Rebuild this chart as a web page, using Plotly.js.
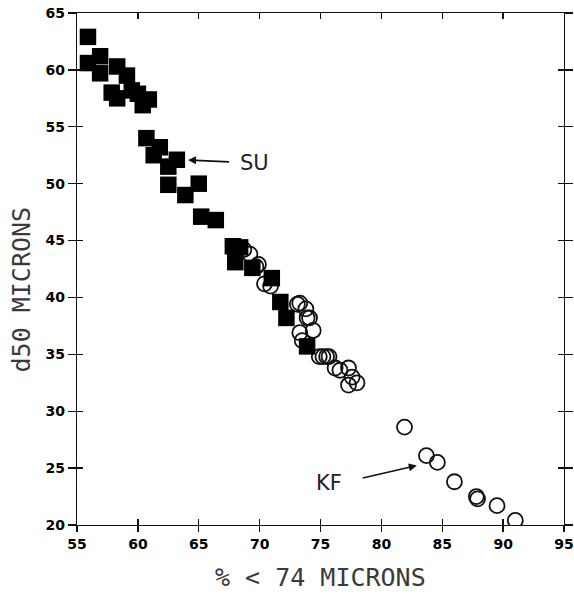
<!DOCTYPE html>
<html>
<head>
<meta charset="utf-8">
<script src="https://cdn.plot.ly/plotly-3.0.1.min.js"></script>
<style>html,body{margin:0;padding:0;background:#fff;}#chart{width:574px;height:604px;}</style>
</head>
<body>
<div id="chart"></div>
<script>
// SU data (filled squares)
const suX = [55.9, 55.9, 56.9, 56.9, 58.3, 59.1, 57.85, 58.3, 59.5, 60.0, 60.4, 60.9,
             60.7, 61.8, 61.3, 63.2, 62.5, 62.5, 65.0, 63.9, 65.2, 66.4,
             67.8, 68.0, 68.4, 69.4, 71.0, 71.7, 72.2, 73.9];
const suY = [62.9, 60.6, 61.2, 59.7, 60.3, 59.5, 58.0, 57.5, 58.2, 57.9, 56.9, 57.4,
             54.0, 53.2, 52.5, 52.1, 51.5, 49.9, 50.0, 49.0, 47.1, 46.8,
             44.5, 43.1, 44.4, 42.6, 41.7, 39.6, 38.2, 35.7];
// KF data (open circles)
const kfX = [68.7, 69.2, 69.9, 69.7, 70.4, 70.9, 73.1, 73.3, 73.8, 74.1, 73.9, 74.4, 73.3, 73.5,
             74.9, 75.2, 75.5, 75.7, 76.2, 76.6, 77.3, 77.6, 77.3, 78.0,
             81.9, 83.7, 84.6, 86.0, 87.8, 87.9, 89.5, 91.0];
const kfY = [44.2, 43.8, 42.9, 42.7, 41.2, 41.0, 39.4, 39.5, 39.0, 38.2, 38.2, 37.1, 36.9, 36.2,
             34.8, 34.8, 34.8, 34.8, 33.8, 33.6, 33.8, 33.0, 32.3, 32.5,
             28.6, 26.1, 25.5, 23.8, 22.5, 22.3, 21.7, 20.4];
const xTicks = [55, 60, 65, 70, 75, 80, 85, 90, 95];
const yTicks = [20, 25, 30, 35, 40, 45, 50, 55, 60, 65];
const xTitle = "% < 74 MICRONS";
const yTitle = "d50 MICRONS";
const labels = {su: "SU", kf: "KF"};

const tickFont = {family: "DejaVu Sans", size: 14, color: "#000", weight: "bold"};
const titleFont = {family: "DejaVu Sans Mono", size: 25, color: "#3a3a3a"};
const labelFont = {family: "DejaVu Sans", size: 21, color: "#222"};

const traces = [
  {x: kfX, y: kfY, type: "scatter", mode: "markers", name: "KF",
   marker: {symbol: "circle-open", size: 15, color: "#111", line: {width: 1.8, color: "#111"}}},
  {x: suX, y: suY, type: "scatter", mode: "markers", name: "SU",
   marker: {symbol: "square", size: 16.5, color: "#000", line: {width: 0}}},
  // overlay axes for crossing ticks
  {x: [], y: [], xaxis: "x2", yaxis: "y2", type: "scatter", showlegend: false, hoverinfo: "skip"}
];

const layout = {
  width: 574, height: 604,
  margin: {l: 77, r: 10, t: 13, b: 79},
  paper_bgcolor: "#fff", plot_bgcolor: "#fff",
  showlegend: false,
  xaxis: {range: [55, 95], tickvals: xTicks, ticktext: xTicks.map(String),
          ticks: "outside", ticklen: 6, tickwidth: 1.3, tickcolor: "#111",
          showline: true, linecolor: "#111", linewidth: 1.3, mirror: true,
          showgrid: false, zeroline: false, tickfont: tickFont, automargin: false},
  yaxis: {range: [20, 65], tickvals: yTicks, ticktext: yTicks.map(String),
          ticks: "outside", ticklen: 8, tickwidth: 1.3, tickcolor: "#111",
          showline: true, linecolor: "#111", linewidth: 1.3, mirror: "ticks",
          showgrid: false, zeroline: false, tickfont: tickFont, automargin: false},
  xaxis2: {range: [55, 95], tickvals: xTicks, overlaying: "x", anchor: "y2",
           ticks: "inside", ticklen: 6, tickwidth: 1.3, tickcolor: "#111",
           mirror: "ticks", showticklabels: false, showgrid: false, zeroline: false, showline: false},
  yaxis2: {range: [20, 65], tickvals: yTicks, overlaying: "y", anchor: "x2",
           ticks: "inside", ticklen: 6, tickwidth: 1.3, tickcolor: "#111",
           mirror: "ticks", showticklabels: false, showgrid: false, zeroline: false, showline: false},
  annotations: [
    {xref: "paper", yref: "paper", x: 0.5, y: -0.103, xanchor: "center", yanchor: "middle",
     text: xTitle, showarrow: false, font: titleFont},
    {xref: "paper", yref: "paper", x: -0.113, y: 0.46, xanchor: "center", yanchor: "middle",
     text: yTitle, textangle: -90, showarrow: false, font: titleFont},
    {xref: "x", yref: "y", x: 64.12, y: 52.08, ax: 44, ay: 2, axref: "pixel", ayref: "pixel",
     text: " ", showarrow: true, arrowhead: 2, arrowsize: 1, arrowwidth: 1.6, arrowcolor: "#111", standoff: 0, startstandoff: 0},
    {xref: "x", yref: "y", x: 69.6, y: 51.8, xanchor: "center", yanchor: "middle",
     text: labels.su, showarrow: false, font: labelFont},
    {xref: "x", yref: "y", x: 82.91, y: 25.22, ax: -57, ay: 13, axref: "pixel", ayref: "pixel",
     text: " ", showarrow: true, arrowhead: 2, arrowsize: 1, arrowwidth: 1.6, arrowcolor: "#111", standoff: 0, startstandoff: 0},
    {xref: "x", yref: "y", x: 75.7, y: 23.7, xanchor: "center", yanchor: "middle",
     text: labels.kf, showarrow: false, font: labelFont}
  ]
};

Plotly.newPlot("chart", traces, layout, {displayModeBar: false, staticPlot: true});
</script>
</body>
</html>
